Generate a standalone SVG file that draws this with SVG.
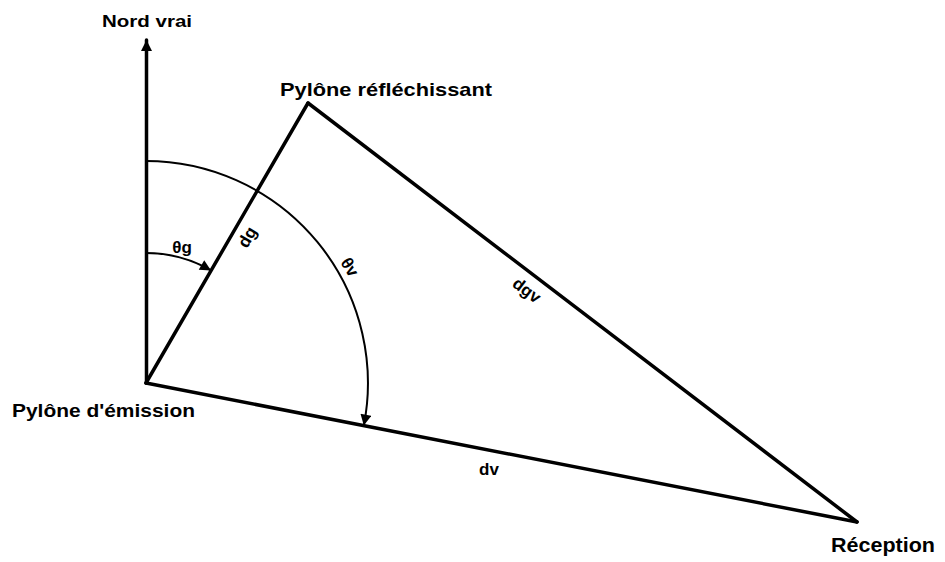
<svg xmlns="http://www.w3.org/2000/svg" width="945" height="562" viewBox="0 0 945 562">
<style>
.lbl{font-family:"Liberation Sans",Arial,sans-serif;font-weight:bold;fill:#000}
.sm{font-family:"Liberation Sans",Arial,sans-serif;font-weight:bold;font-size:17px;fill:#000;text-anchor:middle}
.edge{stroke:#000;stroke-width:3.5;fill:none;stroke-linecap:round}
.arc{stroke:#000;stroke-width:2;fill:none}
</style>
<defs>
<marker id="ah" viewBox="0 0 10 10" refX="10" refY="5" markerUnits="userSpaceOnUse" markerWidth="13" markerHeight="11" orient="auto">
<path d="M0,0 L10,5 L0,10 z" fill="#000"/>
</marker>
</defs>
<g id="connectors">
<line class="edge" x1="146.5" y1="383" x2="146.5" y2="40" stroke-width="2.5" marker-end="url(#ah)"/>
<line class="edge" x1="146" y1="383" x2="308" y2="103"/>
<line class="edge" x1="308" y1="103" x2="857" y2="522"/>
<line class="edge" x1="146" y1="383" x2="857" y2="522"/>
<path class="arc" d="M146,161 A222,222 0 0 1 363.8,425.6" marker-end="url(#ah)"/>
<path class="arc" d="M146,253 A130,130 0 0 1 211,270.4" marker-end="url(#ah)"/>
</g>
<g id="nord">
<text class="lbl" x="102" y="27" font-size="17" textLength="90" lengthAdjust="spacingAndGlyphs">Nord vrai</text>
</g>
<g id="reflechissant">
<text class="lbl" x="280" y="96" font-size="19" textLength="212" lengthAdjust="spacingAndGlyphs">Pylône réfléchissant</text>
</g>
<g id="emission">
<text class="lbl" x="12" y="417" font-size="19" textLength="183" lengthAdjust="spacingAndGlyphs">Pylône d'émission</text>
</g>
<g id="reception">
<text class="lbl" x="831" y="552" font-size="20" textLength="104" lengthAdjust="spacingAndGlyphs">Réception</text>
</g>
<g id="labels">
<text class="sm" x="182" y="253">θg</text>
<text class="sm" transform="translate(247,237) rotate(-60)" y="6">dg</text>
<text class="sm" transform="translate(350,267) rotate(58)" y="6">θv</text>
<text class="sm" transform="translate(527,290) rotate(37)" y="6">dgv</text>
<text class="sm" x="489" y="475">dv</text>
</g>
</svg>
